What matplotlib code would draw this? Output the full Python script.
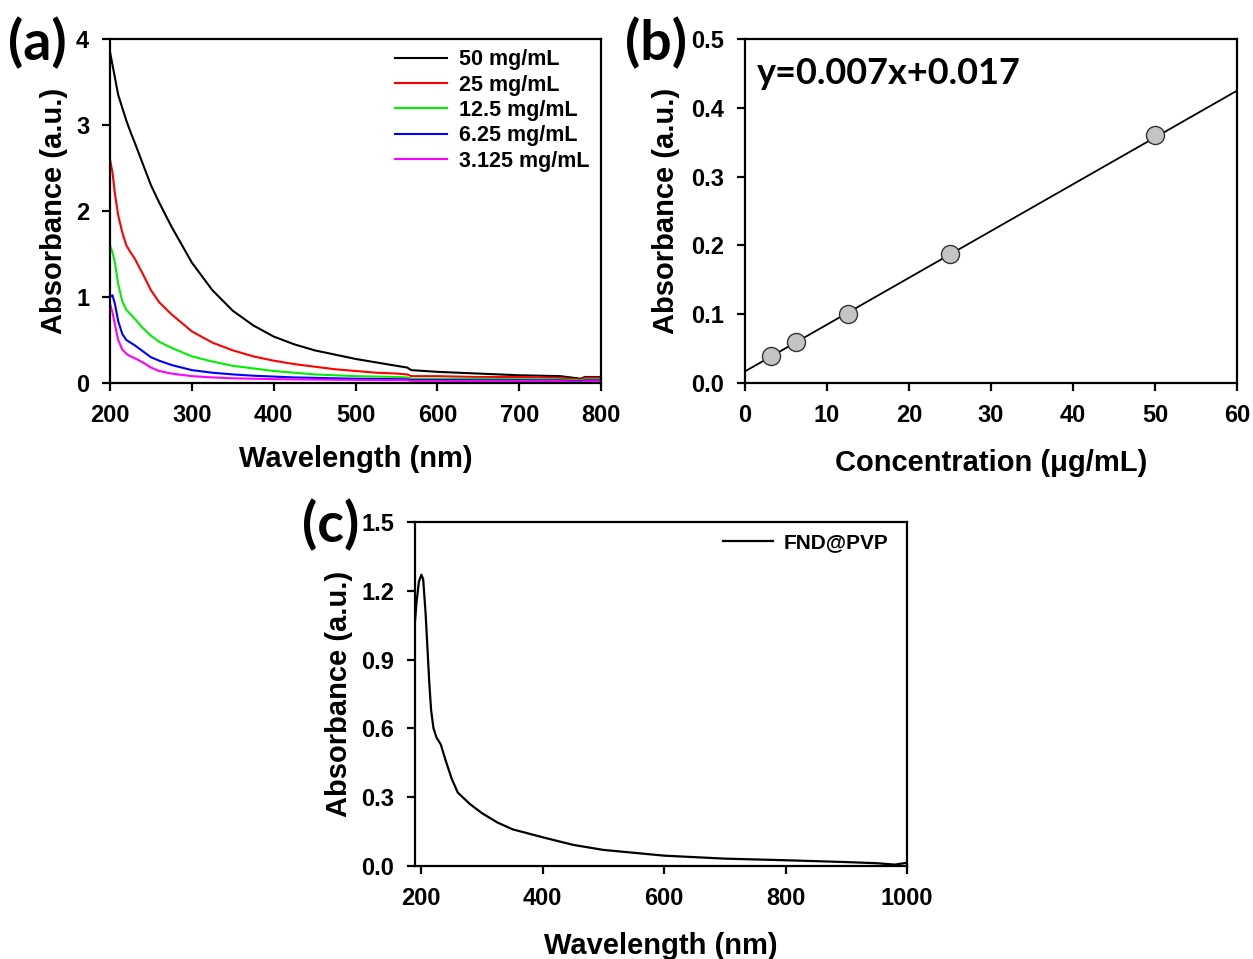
import matplotlib.pyplot as plt

plt.rcParams['font.family'] = ['Liberation Sans', 'DejaVu Sans']
plt.rcParams['font.weight'] = 'bold'

# (a) UV-vis spectra at different concentrations
wl_a = [200, 203, 206, 210, 215, 220, 225, 230, 240, 250, 260, 275, 300, 325, 350, 375,
        400, 425, 450, 475, 500, 525, 550, 563, 568, 600, 650, 700, 750, 775, 780, 800]
abs_50 = [3.85, 3.7, 3.55, 3.35, 3.2, 3.05, 2.92, 2.8, 2.55, 2.3, 2.1, 1.82, 1.4, 1.08, 0.84, 0.67,
          0.54, 0.45, 0.38, 0.33, 0.28, 0.24, 0.2, 0.18, 0.15, 0.13, 0.11, 0.09, 0.08, 0.05, 0.07, 0.07]
abs_25 = [2.6, 2.45, 2.2, 1.95, 1.75, 1.6, 1.52, 1.45, 1.27, 1.08, 0.94, 0.8, 0.6, 0.47, 0.38, 0.31,
          0.26, 0.22, 0.19, 0.16, 0.14, 0.12, 0.11, 0.1, 0.08, 0.08, 0.07, 0.07, 0.06, 0.04, 0.06, 0.06]
abs_12 = [1.6, 1.52, 1.4, 1.15, 0.95, 0.85, 0.8, 0.75, 0.64, 0.55, 0.48, 0.41, 0.31, 0.25, 0.2, 0.17,
          0.14, 0.12, 0.1, 0.09, 0.08, 0.075, 0.07, 0.065, 0.05, 0.05, 0.05, 0.045, 0.04, 0.03, 0.04, 0.04]
abs_6 = [1.0, 1.02, 0.92, 0.72, 0.57, 0.5, 0.47, 0.44, 0.37, 0.3, 0.26, 0.21, 0.15, 0.12, 0.1, 0.085,
         0.075, 0.065, 0.06, 0.055, 0.05, 0.047, 0.045, 0.043, 0.035, 0.035, 0.033, 0.032, 0.03, 0.02, 0.03, 0.03]
abs_3 = [0.92, 0.82, 0.68, 0.5, 0.39, 0.34, 0.31, 0.29, 0.24, 0.18, 0.14, 0.11, 0.08, 0.065, 0.055, 0.05,
         0.045, 0.042, 0.04, 0.038, 0.036, 0.034, 0.033, 0.032, 0.025, 0.025, 0.024, 0.023, 0.022, 0.012, 0.02, 0.02]
series_a = [abs_50, abs_25, abs_12, abs_6, abs_3]
labels_a = ['50 mg/mL', '25 mg/mL', '12.5 mg/mL', '6.25 mg/mL', '3.125 mg/mL']
colors_a = ['#000000', '#ff0000', '#00ee00', '#0000ff', '#ff00ff']

# (b) calibration
conc = [3.125, 6.25, 12.5, 25, 50]
abs_b = [0.04, 0.06, 0.101, 0.187, 0.36]
fit_slope = 0.0068
fit_intercept = 0.017

# (c) FND@PVP spectrum
wl_c = [189, 192, 196, 200, 203, 207, 210, 213, 216, 220, 225, 232, 240, 250, 260, 270, 280,
        300, 325, 350, 400, 450, 500, 600, 700, 800, 900, 950, 980, 1000]
abs_c = [1.05, 1.15, 1.24, 1.27, 1.25, 1.1, 0.95, 0.8, 0.68, 0.6, 0.56, 0.53, 0.46, 0.38, 0.32, 0.295, 0.27,
         0.23, 0.19, 0.16, 0.125, 0.092, 0.07, 0.045, 0.032, 0.025, 0.017, 0.012, 0.006, 0.014]

fig = plt.figure(figsize=(12.53, 9.59), dpi=100)
ax_a = fig.add_axes([0.0878, 0.6006, 0.392, 0.3587])
ax_b = fig.add_axes([0.5946, 0.6006, 0.3927, 0.3587])
ax_c = fig.add_axes([0.3312, 0.097, 0.3927, 0.3587])

for ax in (ax_a, ax_b, ax_c):
    for s in ax.spines.values():
        s.set_linewidth(1.6)
    ax.tick_params(direction='out', length=6, width=1.6, labelsize=17, pad=9)

lab_kw = dict(fontsize=21, fontweight='bold')

for y, lab, col in zip(series_a, labels_a, colors_a):
    ax_a.plot(wl_a, y, color=col, lw=1.5, label=lab)
ax_a.set_xlim(200, 800)
ax_a.set_ylim(0, 4)
ax_a.set_xticks([200, 300, 400, 500, 600, 700, 800])
ax_a.set_yticks([0, 1, 2, 3, 4])
ax_a.set_xlabel('Wavelength (nm)', labelpad=13, **lab_kw)
ax_a.set_ylabel('Absorbance (a.u.)', labelpad=6, **lab_kw)
ax_a.legend(loc='upper left', bbox_to_anchor=(0.58, 0.97), frameon=False, fontsize=15.5,
            handlelength=2.4, labelspacing=0.2, borderaxespad=0, borderpad=0,
            handletextpad=0.6)

xs = [0, 60]
ax_b.plot(xs, [fit_intercept + fit_slope * v for v in xs], color='black', lw=1.3)
ax_b.plot(conc, abs_b, 'o', ms=13, mfc='#c4c4c4', mec='#333333', mew=1.0)
ax_b.set_xlim(0, 60)
ax_b.set_ylim(0, 0.5)
ax_b.set_xticks(range(0, 61, 10))
ax_b.set_yticks([0, 0.1, 0.2, 0.3, 0.4, 0.5])
ax_b.set_yticklabels(['0.0', '0.1', '0.2', '0.3', '0.4', '0.5'])
ax_b.set_xlabel('Concentration (\u03bcg/mL)', labelpad=16, **lab_kw)
ax_b.set_ylabel('Absorbance (a.u.)', labelpad=8, **lab_kw)
ax_b.text(0.025, 0.9, 'y=0.007x+0.017', transform=ax_b.transAxes, fontsize=26,
          fontweight='bold', family='Lato', va='center')

ax_c.plot(wl_c, abs_c, color='black', lw=1.6, label='FND@PVP')
ax_c.set_xlim(189.5, 1000)
ax_c.set_ylim(0, 1.5)
ax_c.set_xticks([200, 400, 600, 800, 1000])
ax_c.set_yticks([0, 0.3, 0.6, 0.9, 1.2, 1.5])
ax_c.set_yticklabels(['0.0', '0.3', '0.6', '0.9', '1.2', '1.5'])
ax_c.set_xlabel('Wavelength (nm)', labelpad=16, **lab_kw)
ax_c.set_ylabel('Absorbance (a.u.)', labelpad=6, **lab_kw)
ax_c.legend(loc='upper left', bbox_to_anchor=(0.626, 0.968), frameon=False, fontsize=15,
            handlelength=2.4, borderaxespad=0, borderpad=0, handletextpad=0.5)

for txt, x, y in [('(a)', 8, 43), ('(b)', 625, 43), ('(c)', 302, 525)]:
    fig.text(x / 1253, 1 - y / 959, txt, fontsize=40, fontweight='bold', family='Lato',
             ha='left', va='center')

fig.savefig('out.png', dpi=100)
